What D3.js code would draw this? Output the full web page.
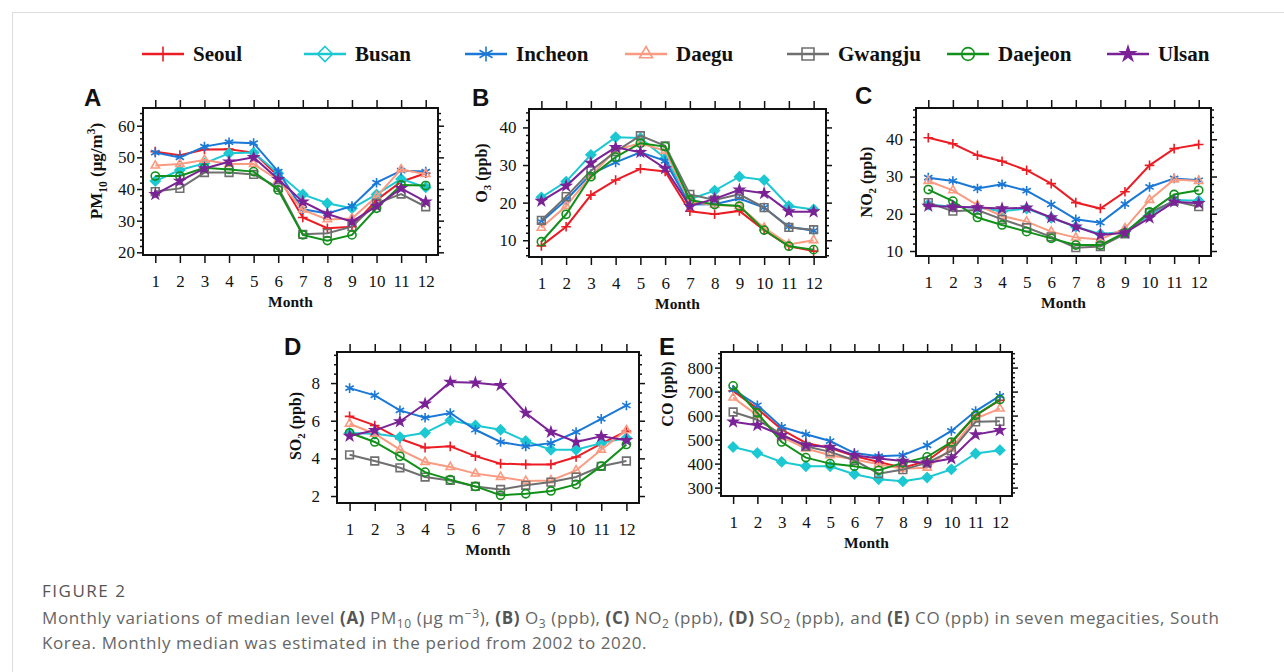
<!DOCTYPE html>
<html>
<head>
<meta charset="utf-8">
<script src="https://cdn.jsdelivr.net/npm/d3@7"></script>
<style>
body { margin: 0; background: #fff; }
</style>
</head>
<body>
<svg id="fig" width="1284" height="672" font-family="'Liberation Serif', 'Times New Roman', serif"></svg>
<script>

// ---- data ----
var months = [1, 2, 3, 4, 5, 6, 7, 8, 9, 10, 11, 12];
var cities = ["Seoul", "Busan", "Incheon", "Daegu", "Gwangju", "Daejeon", "Ulsan"];

// one row per city, in the order of `cities`
var pm10 = [
    [51.8, 50.7, 52.5, 52.6, 51.5, 44.0, 31.0, 27.6, 28.1, 36.5, 42.3, 45.0],
    [42.5, 46.0, 48.1, 51.3, 51.5, 45.0, 38.3, 35.5, 33.9, 38.3, 43.2, 40.5],
    [51.5, 50.0, 53.4, 54.8, 54.5, 45.5, 33.6, 32.3, 34.6, 42.0, 45.8, 45.5],
    [47.4, 47.9, 49.2, 47.9, 47.9, 42.8, 33.4, 30.4, 30.7, 37.6, 46.2, 44.7],
    [39.2, 40.2, 45.2, 45.2, 44.6, 40.5, 25.7, 26.0, 28.1, 35.5, 38.4, 34.4],
    [44.1, 44.1, 46.7, 46.2, 45.5, 39.7, 25.5, 23.7, 25.5, 33.9, 41.3, 41.1],
    [38.3, 42.5, 46.5, 48.6, 50.0, 43.1, 36.0, 32.1, 29.7, 34.6, 40.2, 36.0]
];
var o3 = [
    [8.5, 13.6, 22.0, 26.0, 29.0, 28.3, 17.7, 16.9, 17.8, 12.7, 8.4, 7.1],
    [21.4, 25.6, 32.7, 37.4, 37.2, 31.8, 20.9, 23.2, 26.9, 26.0, 19.1, 18.2],
    [14.9, 20.7, 27.6, 30.7, 33.4, 31.1, 19.5, 19.6, 21.1, 18.7, 13.6, 12.5],
    [13.3, 19.1, 27.1, 34.0, 35.8, 33.8, 20.2, 19.4, 19.1, 13.3, 8.9, 10.0],
    [15.3, 21.6, 28.5, 33.6, 37.8, 35.1, 22.2, 20.7, 22.2, 18.7, 13.4, 12.8],
    [9.6, 16.9, 26.9, 32.1, 35.8, 34.9, 20.7, 19.5, 19.1, 12.7, 8.4, 7.5],
    [20.4, 24.4, 30.5, 34.7, 33.4, 29.1, 19.1, 21.0, 23.4, 22.5, 17.6, 17.6]
];
var no2 = [
    [40.4, 38.8, 35.7, 34.1, 31.7, 28.1, 23.0, 21.4, 25.9, 33.0, 37.5, 38.6],
    [22.5, 21.9, 21.7, 20.7, 21.4, 18.9, 16.5, 14.6, 15.2, 19.6, 23.7, 23.5],
    [29.7, 28.8, 26.8, 27.9, 26.2, 22.5, 18.5, 17.6, 22.6, 27.2, 29.5, 29.0],
    [28.8, 26.3, 22.3, 19.4, 17.9, 15.2, 13.6, 13.1, 16.1, 23.7, 29.2, 28.8],
    [23.0, 20.7, 21.0, 18.5, 16.3, 13.8, 10.9, 11.2, 14.6, 20.3, 23.4, 21.9],
    [26.5, 23.4, 19.0, 17.0, 15.2, 13.4, 11.6, 11.6, 14.9, 20.5, 25.2, 26.3],
    [22.1, 21.9, 21.7, 21.4, 21.6, 19.0, 16.5, 14.3, 14.9, 18.9, 23.2, 22.8]
];
var so2 = [
    [6.23, 5.75, 5.04, 4.57, 4.64, 4.12, 3.72, 3.68, 3.68, 4.07, 4.78, 5.45],
    [5.35, 5.31, 5.13, 5.36, 6.02, 5.75, 5.52, 4.92, 4.46, 4.46, 4.81, 5.08],
    [7.73, 7.35, 6.55, 6.16, 6.41, 5.52, 4.87, 4.64, 4.81, 5.40, 6.10, 6.81],
    [5.84, 5.31, 4.46, 3.81, 3.54, 3.19, 3.01, 2.80, 2.83, 3.36, 4.46, 5.49],
    [4.19, 3.86, 3.50, 3.01, 2.83, 2.51, 2.35, 2.57, 2.74, 3.01, 3.58, 3.86],
    [5.36, 4.87, 4.11, 3.27, 2.87, 2.51, 2.04, 2.12, 2.27, 2.62, 3.59, 4.74],
    [5.19, 5.49, 5.96, 6.90, 8.05, 8.02, 7.88, 6.41, 5.40, 4.87, 5.17, 4.96]
];
var co = [
    [703, 629, 542, 486, 465, 431, 407, 383, 411, 486, 601, 664],
    [469, 444, 407, 389, 389, 356, 335, 326, 342, 376, 442, 456],
    [708, 643, 553, 522, 494, 444, 431, 435, 476, 536, 619, 682],
    [675, 601, 511, 463, 435, 417, 397, 379, 383, 463, 588, 629],
    [615, 583, 522, 472, 449, 414, 358, 375, 403, 453, 574, 576],
    [724, 611, 490, 425, 400, 389, 372, 403, 428, 490, 601, 667],
    [574, 560, 518, 476, 469, 435, 421, 411, 403, 421, 521, 539]
];

var ticksPM10 = [20, 30, 40, 50, 60];
var ticksO3 = [10, 20, 30, 40];
var ticksNO2 = [10, 20, 30, 40];
var ticksSO2 = [2, 4, 6, 8];
var ticksCO = [300, 400, 500, 600, 700, 800];

// ---- styles and layout ----
var cityColors = ["#ec1c24", "#1cc8d2", "#1a78d6", "#fa9a80", "#6f6f6f", "#11901a", "#7a2296"];
var cityMarkers = ["plus", "diamond", "asterisk", "triangle", "square", "circle", "star"];
var legendTextX = [193, 355, 516, 676, 838, 998, 1158];

var panels = [
    {letter: "A", letterXY: [84, 106], data: pm10, ticks: ticksPM10, minor: 2, domain: [19.15, 65.6],
     box: {x: 143, y: 108, w: 295, h: 147}, gap: 8, labelXY: [96, 171], labelSize: 17,
     label: [["PM", ""], ["10", "sub"], [" (\u03bcg/m", ""], ["3", "sup"], [")", ""]]},
    {letter: "B", letterXY: [472, 106], data: o3, ticks: ticksO3, minor: 2, domain: [5.54, 44.9],
     box: {x: 529, y: 109, w: 297, h: 148}, gap: 12.5, labelXY: [481, 173], labelSize: 16,
     label: [["O", ""], ["3", "sub"], [" (ppb)", ""]]},
    {letter: "C", letterXY: [855, 104], data: no2, ticks: ticksNO2, minor: 2, domain: [8.66, 48.4],
     box: {x: 916, y: 108, w: 295, h: 148}, gap: 13, labelXY: [866, 182], labelSize: 16,
     label: [["NO", ""], ["2", "sub"], [" (ppb)", ""]]},
    {letter: "D", letterXY: [284, 355], data: so2, ticks: ticksSO2, minor: 0.5, domain: [1.63, 9.65],
     box: {x: 337, y: 352, w: 302, h: 151}, gap: 17, labelXY: [295, 426], labelSize: 16,
     label: [["SO", ""], ["2", "sub"], [" (ppb)", ""]]},
    {letter: "E", letterXY: [659, 355], data: co, ticks: ticksCO, minor: 20, domain: [265, 865],
     box: {x: 721, y: 352, w: 291, h: 144}, gap: 8, labelXY: [667, 394], labelSize: 16,
     label: [["CO (ppb)", ""]]}
];

var svg = d3.select("#fig");

// light frame around the figure block
svg.append("rect")
    .attr("x", 12.5).attr("y", 12.5)
    .attr("width", 1400).attr("height", 800)
    .attr("fill", "none").attr("stroke", "#dcdcdc");

/**
 * path for one marker, centred on 0,0
 */
function markerPath(type, r) {
    var c = 0.866 * r, h = 0.5 * r;
    switch (type) {
        case "plus": return "M" + (-r) + ",0H" + r + "M0," + (-r) + "V" + r;
        case "diamond": return "M0," + (-r) + "L" + r + ",0L0," + r + "L" + (-r) + ",0Z";
        case "asterisk": return "M0," + (-r) + "V" + r +
            "M" + (-c) + "," + (-h) + "L" + c + "," + h +
            "M" + (-c) + "," + h + "L" + c + "," + (-h);
        case "triangle": return "M0," + (-r) + "L" + c + "," + h + "L" + (-c) + "," + h + "Z";
        case "square": var s = r * 0.8; return "M" + (-s) + "," + (-s) + "H" + s + "V" + s + "H" + (-s) + "Z";
        case "circle": return d3.symbol(d3.symbolCircle, Math.PI * r * r * 0.72)();
        case "star": return d3.symbol(d3.symbolStar, r * r / 0.8908130915292852)();
    }
}

function drawMarker(sel, type, color, r, fillSolid) {
    var filled = type === "star" || (fillSolid && type === "diamond");
    sel.append("path")
        .attr("d", markerPath(type, r))
        .attr("fill", filled ? color : "none")
        .attr("stroke", color)
        .attr("stroke-width", 1.6)
        .attr("stroke-linejoin", "miter");
}

// ---- legend ----
var legend = svg.append("g").attr("class", "legend");
cities.forEach(function(city, i) {
    var tx = legendTextX[i];
    var g = legend.append("g");
    g.append("line")
        .attr("x1", tx - 51).attr("x2", tx - 9)
        .attr("y1", 54).attr("y2", 54)
        .attr("stroke", cityColors[i]).attr("stroke-width", 2.5);
    drawMarker(g.append("g").attr("transform", "translate(" + (tx - 30) + ",54)"),
        cityMarkers[i], cityColors[i], 7.5, false);
    g.append("text")
        .attr("x", tx).attr("y", 61)
        .attr("font-size", 21).attr("font-weight", "bold")
        .attr("fill", "#111")
        .text(city);
});

// ---- panels ----
panels.forEach(function(p) {
    var g = svg.append("g").attr("transform", "translate(" + p.box.x + "," + p.box.y + ")");

    var x = d3.scaleLinear().domain([0.5, 12.5]).range([0, p.box.w]);
    var y = d3.scaleLinear().domain(p.domain).range([p.box.h, 0]);

    // minor ticks that don't sit on a major tick
    var minorVals = [];
    for (var k = Math.ceil(p.domain[0] / p.minor - 1e-9); k * p.minor <= p.domain[1]; k++) {
        var v = +(k * p.minor).toFixed(4);
        if (p.ticks.indexOf(v) < 0) minorVals.push(v);
    }

    g.append("g").call(d3.axisLeft(y).tickValues(minorVals).tickSize(3).tickFormat(""));
    g.append("g").attr("transform", "translate(" + p.box.w + ",0)")
        .call(d3.axisRight(y).tickValues(minorVals).tickSize(3).tickFormat(""));
    g.append("g").attr("class", "ylab")
        .call(d3.axisLeft(y).tickValues(p.ticks).tickSize(6).tickPadding(p.gap - 6));
    g.append("g").attr("transform", "translate(" + p.box.w + ",0)")
        .call(d3.axisRight(y).tickValues(p.ticks).tickSize(6).tickFormat(""));
    g.append("g").call(d3.axisTop(x).tickValues(months).tickSize(8).tickFormat(""));
    g.append("g").attr("transform", "translate(0," + p.box.h + ")")
        .call(d3.axisBottom(x).tickValues(months).tickSize(8).tickPadding(12));

    g.selectAll(".domain").remove();
    g.selectAll("g").attr("font-family", null);
    g.selectAll(".tick line").attr("stroke", "#111").attr("stroke-width", 1.5);
    g.selectAll(".tick text")
        .attr("font-size", 17)
        .attr("fill", "#111");

    // series
    var line = d3.line()
        .x(function(d, i) { return x(months[i]); })
        .y(function(d) { return y(d); });

    p.data.forEach(function(series, ci) {
        g.append("path")
            .datum(series)
            .attr("d", line)
            .attr("fill", "none")
            .attr("stroke", cityColors[ci])
            .attr("stroke-width", 2);
        series.forEach(function(v, i) {
            drawMarker(g.append("g").attr("transform", "translate(" + x(months[i]) + "," + y(v) + ")"),
                cityMarkers[ci], cityColors[ci], 4.8, true);
        });
    });

    // frame
    g.append("rect")
        .attr("width", p.box.w).attr("height", p.box.h)
        .attr("fill", "none").attr("stroke", "#111").attr("stroke-width", 2);

    // x title
    g.append("text")
        .attr("x", p.box.w / 2).attr("y", p.box.h + 52)
        .attr("text-anchor", "middle")
        .attr("font-size", 15.5).attr("font-weight", "bold")
        .attr("fill", "#111")
        .text("Month");

    // y title, rotated, with sub/superscripts
    var fs = p.labelSize;
    var yt = svg.append("text")
        .attr("transform", "translate(" + p.labelXY[0] + "," + p.labelXY[1] + ") rotate(-90)")
        .attr("text-anchor", "middle")
        .attr("dy", "0.35em")
        .attr("font-size", fs).attr("font-weight", "bold")
        .attr("fill", "#111");
    var shift = 0;
    p.label.forEach(function(part) {
        var ts = yt.append("tspan").text(part[0]);
        var target = part[1] === "sub" ? fs * 0.3 : part[1] === "sup" ? -fs * 0.4 : 0;
        if (target !== shift) ts.attr("dy", target - shift);
        shift = target;
        if (part[1]) ts.attr("font-size", fs * 0.68);
    });

    // panel letter
    svg.append("text")
        .attr("x", p.letterXY[0]).attr("y", p.letterXY[1])
        .attr("font-family", "'Liberation Sans', Arial, sans-serif")
        .attr("font-size", 24).attr("font-weight", "bold")
        .attr("fill", "#111")
        .text(p.letter);
});

// ---- caption ----
var capFont = "'Open Sans', 'Noto Sans', sans-serif";
svg.append("text")
    .attr("x", 42).attr("y", 597)
    .attr("font-family", capFont).attr("font-size", 17)
    .attr("letter-spacing", 1.5)
    .attr("fill", "#555")
    .text("FIGURE 2");

var capLine1 = [
    ["Monthly variations of median level ", ""], ["(A)", "b"], [" PM", ""], ["10", "sub"],
    [" (\u03bcg m", ""], ["\u22123", "sup"], ["), ", ""], ["(B)", "b"], [" O", ""], ["3", "sub"],
    [" (ppb), ", ""], ["(C)", "b"], [" NO", ""], ["2", "sub"], [" (ppb), ", ""], ["(D)", "b"],
    [" SO", ""], ["2", "sub"], [" (ppb), and ", ""], ["(E)", "b"],
    [" CO (ppb) in seven megacities, South", ""]
];
var capLine2 = [["Korea. Monthly median was estimated in the period from 2002 to 2020.", ""]];

function captionLine(parts, yPos) {
    var t = svg.append("text")
        .attr("x", 42).attr("y", yPos)
        .attr("font-family", capFont).attr("font-size", 17)
        .attr("letter-spacing", 0.6)
        .attr("fill", "#666");
    var shift = 0;
    parts.forEach(function(part) {
        var ts = t.append("tspan").text(part[0]);
        var target = part[1] === "sub" ? 4 : part[1] === "sup" ? -6 : 0;
        if (target !== shift) ts.attr("dy", target - shift);
        shift = target;
        if (part[1] === "sub" || part[1] === "sup") ts.attr("font-size", 12);
        if (part[1] === "b") ts.attr("font-weight", "bold").attr("fill", "#555");
    });
}
captionLine(capLine1, 624);
captionLine(capLine2, 649);

</script>
</body>
</html>
